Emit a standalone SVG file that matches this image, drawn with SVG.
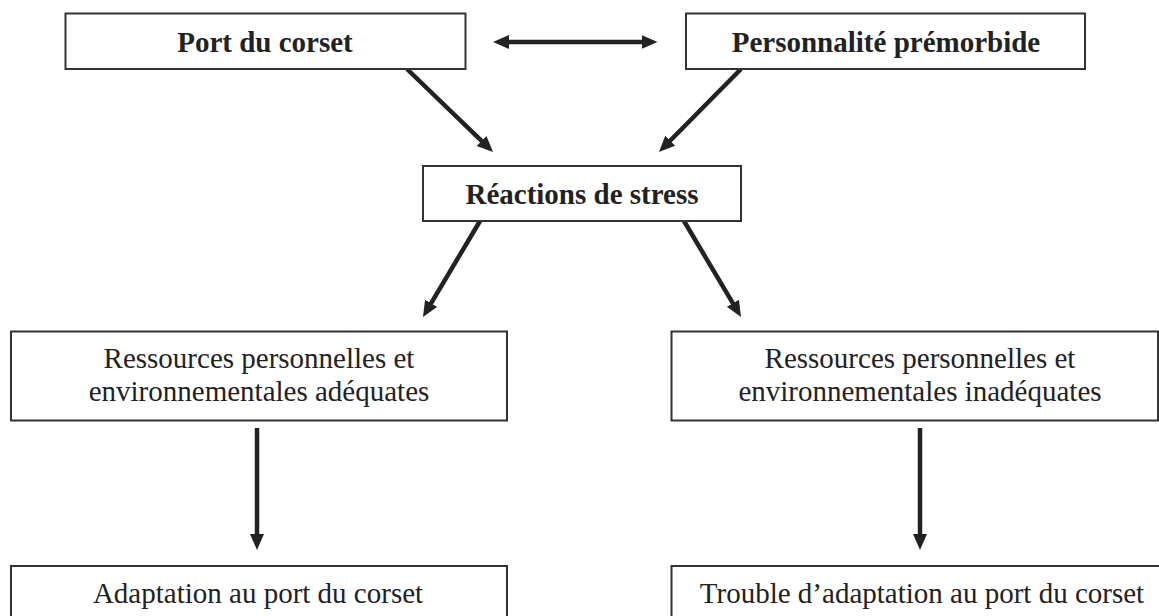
<svg xmlns="http://www.w3.org/2000/svg" width="1159" height="616" viewBox="0 0 1159 616">
  <style>
    .box { fill: #ffffff; stroke: #333333; stroke-width: 2; }
    .lbl { font-family: "Liberation Serif", "Times New Roman", serif; font-size: 29px; fill: #222222; text-anchor: middle; }
    .b { font-weight: bold; }
    .arr { stroke: #222222; stroke-width: 4.5; fill: none; marker-end: url(#ah); }
    .dbl { marker-start: url(#ah); }
  </style>
  <defs>
    <marker id="ah" markerUnits="userSpaceOnUse" markerWidth="18" markerHeight="16" refX="4" refY="7" orient="auto-start-reverse" viewBox="0 0 18 16">
      <path d="M0,0 L16,7 L0,14 z" fill="#222222"/>
    </marker>
  </defs>
  <rect width="1159" height="616" fill="#ffffff"/>

  <g id="connectors">
    <line class="arr dbl" x1="505" y1="42" x2="645.5" y2="42"/>
    <line class="arr" x1="407" y1="69" x2="484.4" y2="143.7"/>
    <line class="arr" x1="741" y1="69" x2="667.4" y2="143.5"/>
    <line class="arr" x1="480" y1="221" x2="429.1" y2="306.7"/>
    <line class="arr" x1="684" y1="221" x2="734.9" y2="306.7"/>
    <line class="arr" x1="257" y1="428" x2="257" y2="538"/>
    <line class="arr" x1="920" y1="428" x2="920" y2="538"/>
  </g>

  <g id="port-du-corset">
    <rect class="box" x="65.5" y="13.5" width="400" height="55.5"/>
    <text class="lbl b" x="265" y="52">Port du corset</text>
  </g>

  <g id="personnalite-premorbide">
    <rect class="box" x="686" y="13.5" width="399" height="55.5"/>
    <text class="lbl b" x="886" y="52">Personnalité prémorbide</text>
  </g>

  <g id="reactions-de-stress">
    <rect class="box" x="423" y="166" width="318" height="55"/>
    <text class="lbl b" x="582" y="204">Réactions de stress</text>
  </g>

  <g id="ressources-adequates">
    <rect class="box" x="11" y="331.5" width="496" height="89"/>
    <text class="lbl" x="259" y="368">Ressources personnelles et</text>
    <text class="lbl" x="259" y="401">environnementales adéquates</text>
  </g>

  <g id="ressources-inadequates">
    <rect class="box" x="671.5" y="331.5" width="486.5" height="89"/>
    <text class="lbl" x="920" y="368">Ressources personnelles et</text>
    <text class="lbl" x="920" y="401">environnementales inadéquates</text>
  </g>

  <g id="adaptation">
    <rect class="box" x="11" y="566" width="496" height="70"/>
    <text class="lbl" x="258" y="603">Adaptation au port du corset</text>
  </g>

  <g id="trouble-adaptation">
    <rect class="box" x="671.5" y="566" width="500" height="70"/>
    <text class="lbl" x="922" y="603">Trouble d’adaptation au port du corset</text>
  </g>
</svg>
